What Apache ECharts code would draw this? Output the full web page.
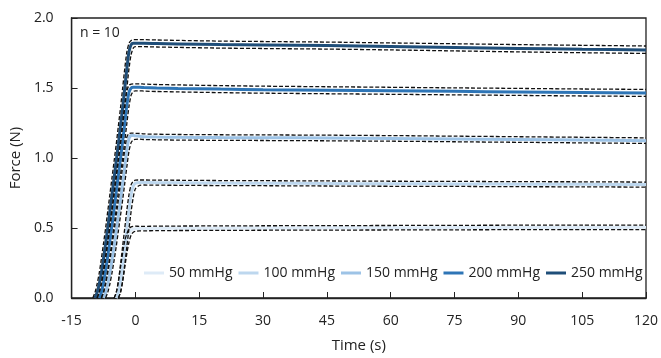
<!DOCTYPE html>
<html><head><meta charset="utf-8">
<script src="https://cdn.jsdelivr.net/npm/echarts@6/dist/echarts.min.js"></script>
<style>html,body{margin:0;padding:0;background:#fff}#c{width:661px;height:358px}</style>
</head><body><div id="c"></div>
<script>
// time grid (s)
const time = [-10,-9.5,-9,-8.5,-8,-7.5,-7,-6.5,-6,-5.5,-5,-4.5,-4,-3.5,-3,-2.5,-2,-1.5,-1,-0.5,0,
              1,2,5,10,20,30,45,60,75,90,105,120];
const seriesNames = ['50 mmHg','100 mmHg','150 mmHg','200 mmHg','250 mmHg'];
const seriesColors = ['#DEEBF7','#BDD7EE','#9DC3E6','#2E75B6','#1F4E79'];
const xTicks = [-15,0,15,30,45,60,75,90,105,120];
const yTicks = [0,0.5,1.0,1.5,2.0];

// mean force (N)
const mean50  = [null,null,null,null,null,null,null,null,null,null,null,0,0.04,0.12,0.22,0.32,0.41,0.46,0.485,0.493,0.495,
                 0.496,0.496,0.497,0.498,0.499,0.5,0.501,0.502,0.503,0.504,0.504,0.505];
const mean100 = [null,null,null,null,null,null,null,null,null,null,null,0,0.04,0.12,0.24,0.37,0.5,0.63,0.74,0.8,0.82,
                 0.825,0.825,0.824,0.823,0.821,0.82,0.818,0.816,0.815,0.813,0.812,0.81];
const mean150 = [null,null,null,null,null,0,0.04,0.1,0.18,0.27,0.37,0.48,0.59,0.7,0.82,0.94,1.06,1.14,1.16,1.16,1.158,
                 1.155,1.152,1.15,1.148,1.146,1.145,1.143,1.14,1.136,1.132,1.128,1.124];
const mean200 = [null,null,null,0,0.04,0.11,0.2,0.3,0.41,0.52,0.64,0.76,0.88,1.0,1.12,1.25,1.38,1.47,1.5,1.505,1.505,
                 1.505,1.503,1.5,1.497,1.492,1.488,1.484,1.48,1.476,1.472,1.468,1.465];
const mean250 = [null,0,0.04,0.1,0.18,0.28,0.39,0.5,0.62,0.74,0.86,0.98,1.1,1.23,1.36,1.5,1.64,1.76,1.81,1.82,1.82,
                 1.82,1.82,1.818,1.815,1.81,1.807,1.803,1.797,1.79,1.783,1.777,1.772];

// upper (+SD) and lower (-SD) bands
const upper50  = [null,null,null,null,null,null,null,null,null,null,0,0.04,0.12,0.22,0.32,0.41,0.46,0.495,0.508,0.512,0.513,
                  0.512,0.512,0.513,0.514,0.515,0.516,0.517,0.518,0.519,0.52,0.52,0.521];
const lower50  = [null,null,null,null,null,null,null,null,null,null,null,null,0,0.04,0.12,0.22,0.32,0.4,0.45,0.47,0.476,
                  0.48,0.48,0.481,0.482,0.483,0.484,0.485,0.486,0.487,0.488,0.488,0.489];
const upper100 = [null,null,null,null,null,null,null,null,null,null,0,0.04,0.12,0.24,0.37,0.5,0.63,0.74,0.81,0.835,0.842,
                  0.843,0.843,0.842,0.841,0.839,0.838,0.836,0.834,0.833,0.831,0.83,0.828];
const lower100 = [null,null,null,null,null,null,null,null,null,null,null,null,0,0.04,0.12,0.24,0.37,0.5,0.62,0.72,0.78,
                  0.805,0.807,0.806,0.805,0.803,0.802,0.8,0.798,0.797,0.795,0.794,0.792];
const upper150 = [null,null,null,null,0,0.04,0.1,0.18,0.27,0.37,0.48,0.59,0.7,0.82,0.94,1.06,1.15,1.175,1.178,1.178,1.176,
                  1.175,1.172,1.17,1.168,1.166,1.165,1.163,1.16,1.156,1.152,1.148,1.144];
const lower150 = [null,null,null,null,null,null,0,0.04,0.1,0.18,0.27,0.37,0.48,0.59,0.7,0.82,0.94,1.05,1.11,1.13,1.133,
                  1.135,1.132,1.13,1.128,1.126,1.125,1.123,1.12,1.116,1.112,1.108,1.104];
const upper200 = [null,null,0,0.04,0.11,0.2,0.3,0.41,0.52,0.64,0.76,0.88,1.0,1.12,1.25,1.38,1.48,1.52,1.528,1.53,1.53,
                  1.53,1.528,1.525,1.522,1.517,1.513,1.509,1.505,1.501,1.497,1.493,1.49];
const lower200 = [null,null,null,null,0,0.04,0.11,0.2,0.3,0.41,0.52,0.64,0.76,0.88,1.0,1.12,1.25,1.37,1.45,1.475,1.48,
                  1.48,1.478,1.475,1.472,1.467,1.463,1.459,1.455,1.451,1.447,1.443,1.44];
const upper250 = [0,0.04,0.1,0.18,0.28,0.39,0.5,0.62,0.74,0.86,0.98,1.1,1.23,1.36,1.5,1.64,1.76,1.82,1.84,1.845,1.845,
                  1.845,1.845,1.843,1.84,1.835,1.832,1.828,1.822,1.816,1.81,1.805,1.8];
const lower250 = [null,null,0,0.04,0.1,0.18,0.28,0.39,0.5,0.62,0.74,0.86,0.98,1.1,1.23,1.36,1.5,1.64,1.74,1.785,1.795,
                  1.795,1.795,1.793,1.79,1.785,1.782,1.778,1.772,1.765,1.758,1.752,1.747];

const means = [mean50, mean100, mean150, mean200, mean250];
const uppers = [upper50, upper100, upper150, upper200, upper250];
const lowers = [lower50, lower100, lower150, lower200, lower250];

const pair = arr => time.map((t,i) => [t, arr[i]]);
const FONT = 'Open Sans';
const series = [];
means.forEach((m,k) => {
  series.push({
    name: seriesNames[k], type: 'line', data: pair(m), symbol: 'none', smooth: 0.25,
    lineStyle: {color: seriesColors[k], width: 3}, itemStyle: {color: seriesColors[k]}, z: 2, silent: true
  });
});
[uppers, lowers].forEach(group => group.forEach((b,k) => {
  series.push({
    name: 'band', type: 'line', data: pair(b), symbol: 'none', smooth: 0.25,
    lineStyle: {color: '#111', width: 1.3, type: [4, 2]}, z: 3, silent: true
  });
}));

const chart = echarts.init(document.getElementById('c'), null, {renderer: 'canvas'});
chart.setOption({
  animation: false,
  textStyle: {fontFamily: FONT},
  grid: {left: 70, right: 11, top: 18, bottom: 59, show: true, borderColor: '#222', borderWidth: 1.3, backgroundColor: 'transparent'},
  legend: {
    data: seriesNames, left: 139, top: 261, itemWidth: 20, itemHeight: 3, itemGap: 6,
    icon: 'rect',
    textStyle: {fontFamily: FONT, fontSize: 14, color: '#222'}
  },
  graphic: [{type: 'text', left: 80, top: 26, style: {text: 'n = 10', font: '14px "Open Sans"', fill: '#222'}}],
  xAxis: {
    type: 'value', min: xTicks[0], max: xTicks[xTicks.length-1], interval: 15,
    name: 'Time (s)', nameLocation: 'middle', nameGap: 40,
    nameTextStyle: {fontFamily: FONT, fontSize: 15, color: '#222'},
    axisLine: {show: true, onZero: false, lineStyle: {color: '#222', width: 1.3}},
    axisTick: {show: true, inside: true, length: 6, lineStyle: {color: '#222'}},
    axisLabel: {fontFamily: FONT, fontSize: 14, color: '#222', margin: 16},
    splitLine: {show: false}
  },
  yAxis: {
    type: 'value', min: yTicks[0], max: yTicks[yTicks.length-1], interval: 0.5,
    name: 'Force (N)', nameLocation: 'middle', nameGap: 48, nameRotate: 90,
    nameTextStyle: {fontFamily: FONT, fontSize: 15, color: '#222'},
    axisLine: {show: true, onZero: false, lineStyle: {color: '#222', width: 1.3}},
    axisTick: {show: true, inside: true, length: 6, lineStyle: {color: '#222'}},
    axisLabel: {fontFamily: FONT, fontSize: 14, color: '#222', margin: 18, formatter: v => v.toFixed(1)},
    splitLine: {show: false}
  },
  series: series
});
</script></body></html>
